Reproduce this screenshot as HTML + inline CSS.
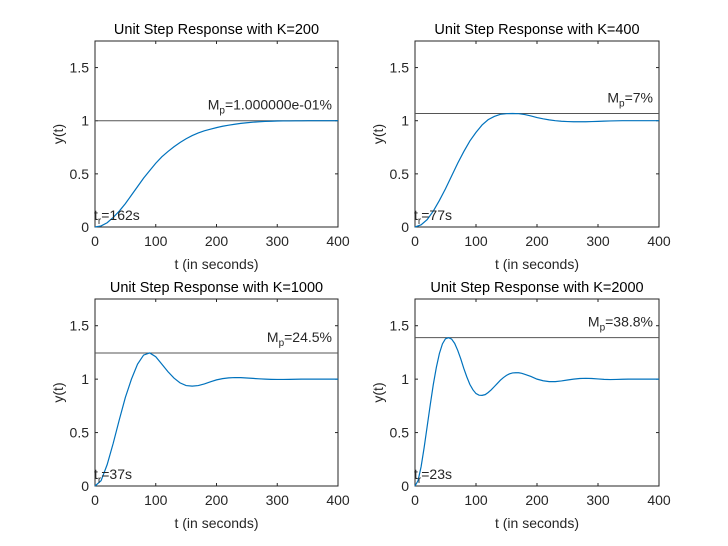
<!DOCTYPE html>
<html><head><meta charset="utf-8">
<style>
html,body{margin:0;padding:0;background:#fff;}
svg{display:block;font-family:"Liberation Sans",sans-serif;}
</style></head>
<body>
<svg id="fig" width="728" height="546" viewBox="0 0 728 546"></svg>
<script>
const tStep10 = [0,10,20,30,40,50,60,70,80,90,100,110,120,130,140,150,160,170,180,190,200,210,220,230,240,250,260,270,280,290,300,310,320,330,340,350,360,370,380,390,400];
const yK200 = [0,0.01,0.04,0.09,0.15,0.22,0.30,0.38,0.46,0.53,0.60,0.66,0.71,0.755,0.795,0.83,0.86,0.885,0.905,0.92,0.935,0.948,0.958,0.967,0.975,0.981,0.986,0.99,0.993,0.995,0.997,0.998,0.998,0.999,0.999,1,1,1,1,1,1];
const yK400 = [0,0.02,0.07,0.15,0.25,0.36,0.48,0.60,0.71,0.81,0.89,0.96,1.01,1.04,1.06,1.066,1.068,1.066,1.058,1.045,1.03,1.018,1.008,1.0,0.995,0.992,0.99,0.99,0.99,0.992,0.994,0.996,0.998,0.999,1.0,1.0,1.0,1.0,1.0,1.0,1.0];
const yK1000 = [0,0.05,0.2,0.4,0.62,0.83,1.0,1.14,1.225,1.245,1.21,1.14,1.07,1.01,0.965,0.94,0.935,0.94,0.955,0.975,0.993,1.005,1.012,1.015,1.014,1.011,1.007,1.003,1.0,0.998,0.997,0.997,0.998,0.999,1.0,1.0,1.0,1.0,1.0,1.0,1.0];
const tK2000 = [0,5,10,15,20,25,30,35,40,45,50,55,60,65,70,75,80,85,90,95,100,105,110,115,120,125,130,135,140,145,150,155,160,165,170,175,180,190,200,210,220,230,240,250,260,270,280,290,300,310,320,330,340,350,360,370,380,390,400];
const yK2000 = [0,0.05,0.18,0.36,0.56,0.76,0.95,1.11,1.24,1.33,1.378,1.388,1.375,1.335,1.27,1.19,1.1,1.02,0.95,0.9,0.865,0.85,0.848,0.855,0.875,0.9,0.93,0.96,0.99,1.015,1.035,1.05,1.058,1.06,1.06,1.055,1.045,1.025,1.0,0.985,0.977,0.977,0.983,0.992,1.0,1.006,1.008,1.006,1.002,0.998,0.996,0.997,0.999,1.0,1.0,1.0,1.0,1.0,1.0];
const peakValues = [1.0, 1.068, 1.245, 1.388];
const titles = ["Unit Step Response with K=200","Unit Step Response with K=400","Unit Step Response with K=1000","Unit Step Response with K=2000"];
const mpLabels = ["=1.000000e-01%","=7%","=24.5%","=38.8%"];
const trLabels = ["=162s","=77s","=37s","=23s"];
const xTicks = [0,100,200,300,400];
const yTicks = [0,0.5,1,1.5];
const yTickLabels = ["0","0.5","1","1.5"];

const NS = "http://www.w3.org/2000/svg";
const svg = document.getElementById("fig");
function mk(tag, attrs, parent){ const e=document.createElementNS(NS,tag); for(const k in attrs) e.setAttribute(k,attrs[k]); (parent||svg).appendChild(e); return e; }

const panels = [
  {x0:95,x1:338,yTop:41,yBot:227,t:tStep10,y:yK200,name:"k200"},
  {x0:415,x1:659,yTop:41,yBot:227,t:tStep10,y:yK400,name:"k400"},
  {x0:95,x1:338,yTop:299,yBot:486,t:tStep10,y:yK1000,name:"k1000"},
  {x0:415,x1:659,yTop:299,yBot:486,t:tK2000,y:yK2000,name:"k2000"}
];

panels.forEach((p,i)=>{
  const g = mk("g",{});
  
  
  const sx = v => p.x0 + (v/400)*(p.x1-p.x0);
  const sy = v => p.yBot - (v/1.75)*(p.yBot-p.yTop);
  const box = mk("rect",{x:p.x0,y:p.yTop,width:p.x1-p.x0,height:p.yBot-p.yTop,fill:"#fff",stroke:"#262626","stroke-width":1},g);
  
  
  xTicks.forEach(v=>{
    const x=sx(v);
    mk("line",{x1:x,x2:x,y1:p.yBot,y2:p.yBot-3,stroke:"#262626"},g);
    mk("line",{x1:x,x2:x,y1:p.yTop,y2:p.yTop+3,stroke:"#262626"},g);
    const tl=mk("text",{x:x,y:p.yBot+19,"font-size":"14","text-anchor":"middle",fill:"#262626"},g);
    tl.textContent=v;
    
    
  });
  yTicks.forEach((v,j)=>{
    const y=sy(v);
    mk("line",{x1:p.x0,x2:p.x0+3,y1:y,y2:y,stroke:"#262626"},g);
    mk("line",{x1:p.x1,x2:p.x1-3,y1:y,y2:y,stroke:"#262626"},g);
    const tl=mk("text",{x:p.x0-6,y:y+5,"font-size":"14","text-anchor":"end",fill:"#262626"},g);
    tl.textContent=yTickLabels[j];
    
    
  });
  const pl=mk("line",{x1:p.x0,x2:p.x1,y1:sy(peakValues[i]),y2:sy(peakValues[i]),stroke:"#555","stroke-width":1},g);
  
  
  let d="";
  p.t.forEach((t,k)=>{ d+=(k?"L":"M")+sx(t).toFixed(2)+","+sy(p.y[k]).toFixed(2); });
  const c=mk("path",{d:d,fill:"none",stroke:"#0072BD","stroke-width":1.2},g);
  
  
  const mp=mk("text",{x:p.x1-6,y:sy(peakValues[i])-11,"font-size":"14","text-anchor":"end",fill:"#262626"},g);
  mp.innerHTML='M<tspan font-size="10" dy="4">p</tspan><tspan dy="-4">'+mpLabels[i]+'</tspan>';
  
  
  const tr=mk("text",{x:p.x0-1,y:p.yBot-7,"font-size":"14",fill:"#262626"},g);
  tr.innerHTML='t<tspan font-size="10" dy="4">r</tspan><tspan dy="-4">'+trLabels[i]+'</tspan>';
  
  
  const ti=mk("text",{x:(p.x0+p.x1)/2,y:p.yTop-7,"font-size":"14.5","text-anchor":"middle",fill:"#000"},g);
  ti.textContent=titles[i];
  
  
  const xl=mk("text",{x:(p.x0+p.x1)/2,y:p.yBot+42,"font-size":"14","text-anchor":"middle",fill:"#262626"},g);
  xl.textContent="t (in seconds)";
  
  
  const yc=(p.yTop+p.yBot)/2, yx=p.x0-32;
  const yl=mk("text",{x:yx,y:yc,"font-size":"14","text-anchor":"middle",fill:"#262626",transform:"rotate(-90 "+yx+" "+yc+")"},g);
  yl.textContent="y(t)";
  
  
});
</script>
</body></html>
